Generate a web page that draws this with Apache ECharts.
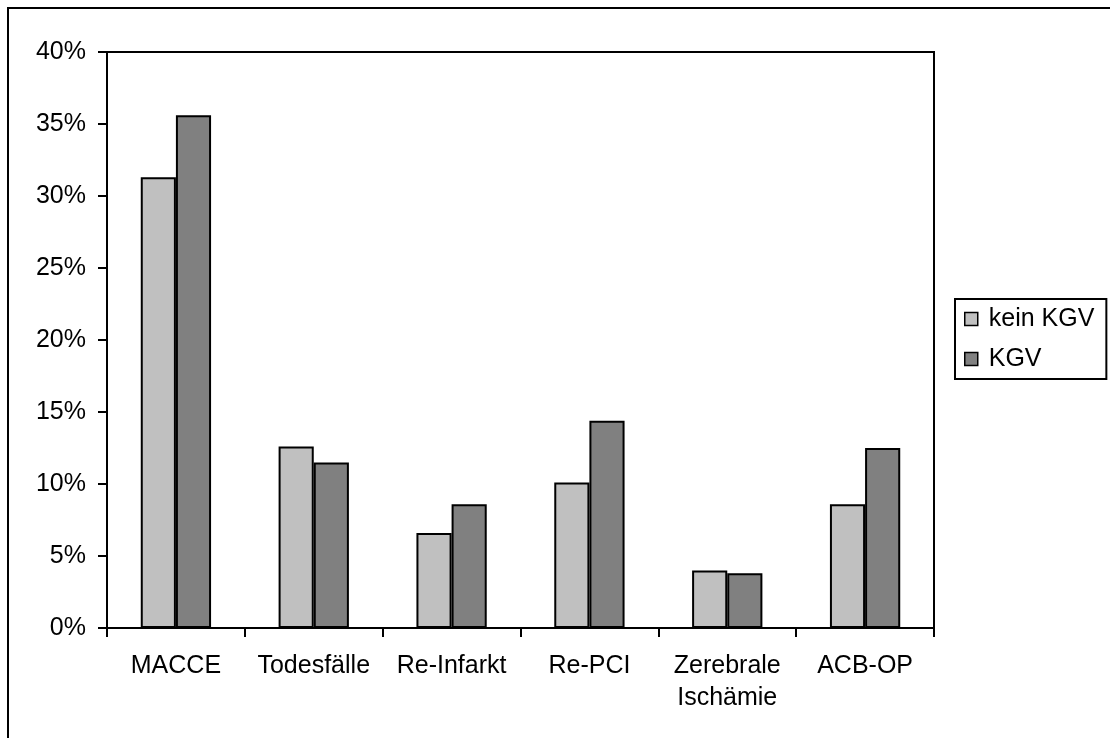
<!DOCTYPE html>
<html>
<head>
<meta charset="utf-8">
<script src="https://cdn.jsdelivr.net/npm/echarts@6/dist/echarts.min.js"></script>
<style>
  html, body { margin: 0; padding: 0; background: #ffffff; }
  #chart { width: 1110px; height: 738px; }
</style>
</head>
<body>
<div id="chart"></div>
<script>
// Event categories on the x axis
const categories = ['MACCE', 'Todesfälle', 'Re-Infarkt', 'Re-PCI', 'Zerebrale\nIschämie', 'ACB-OP'];
// Event rates in percent
const keinKGV = [31.3, 12.6, 6.6, 10.1, 4.0, 8.6];
const KGV = [35.6, 11.5, 8.6, 14.4, 3.8, 12.5];
const seriesNames = ['kein KGV', 'KGV'];

const FONT = '"Liberation Sans", Arial, sans-serif';
const chart = echarts.init(document.getElementById('chart'), null, { renderer: 'canvas' });

chart.setOption({
  backgroundColor: '#ffffff',
  animation: false,
  textStyle: { fontFamily: FONT, color: '#000' },
  graphic: [{
    type: 'rect',
    shape: { x: 8, y: 8, width: 1200, height: 800 },
    style: { fill: 'none', stroke: '#000', lineWidth: 2 },
    silent: true
  }],
  grid: {
    left: 107, right: 176, top: 52, bottom: 110,
    show: true, borderColor: '#000', borderWidth: 2, backgroundColor: 'transparent'
  },
  legend: {
    orient: 'vertical',
    left: 955, top: 299,
    padding: [6, 12, 6, 9],
    itemGap: 12,
    itemWidth: 13, itemHeight: 13,
    icon: 'rect',
    borderColor: '#000', borderWidth: 2,
    itemStyle: { borderColor: '#000', borderWidth: 1.5 },
    textStyle: { fontFamily: FONT, fontSize: 25, color: '#000', padding: [0, 0, 0, 6], lineHeight: 28 },
    data: seriesNames
  },
  xAxis: {
    type: 'category',
    data: categories,
    boundaryGap: true,
    axisLine: { lineStyle: { color: '#000', width: 2 } },
    axisTick: { show: true, inside: false, length: 9, lineStyle: { color: '#000', width: 2 } },
    axisLabel: { interval: 0, margin: 22, fontFamily: FONT, fontSize: 25, color: '#000', lineHeight: 32 },
    splitLine: { show: false }
  },
  yAxis: {
    type: 'value',
    min: 0, max: 40, interval: 5,
    axisLine: { show: true, lineStyle: { color: '#000', width: 2 } },
    axisTick: { show: true, inside: false, length: 9, lineStyle: { color: '#000', width: 2 } },
    axisLabel: { margin: 21, fontFamily: FONT, fontSize: 25, color: '#000', formatter: '{value}%' },
    splitLine: { show: false }
  },
  series: [
    {
      name: seriesNames[0], type: 'bar', data: keinKGV,
      barGap: '0%', barCategoryGap: '49%',
      itemStyle: { color: '#c0c0c0', borderColor: '#000', borderWidth: 2 }
    },
    {
      name: seriesNames[1], type: 'bar', data: KGV,
      barGap: '0%', barCategoryGap: '49%',
      itemStyle: { color: '#808080', borderColor: '#000', borderWidth: 2 }
    }
  ]
});
</script>
</body>
</html>
